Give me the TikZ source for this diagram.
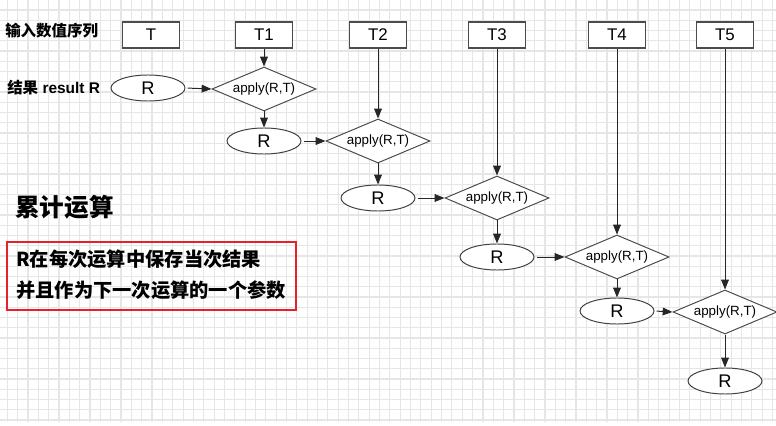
\documentclass[tikz,border=0pt]{standalone}
\usepackage{fontspec}
\setmainfont{Liberation Sans}
\newfontfamily\cjk{Noto Sans CJK SC}
\usetikzlibrary{shapes.geometric, arrows.meta, positioning, calc}

\definecolor{gridgray}{HTML}{E6E6E6}
\definecolor{notered}{HTML}{E8202A}

\begin{document}
\begin{tikzpicture}[
    x=0.025cm, y=-0.025cm,
    % --- BASE STYLES ---
    gridline/.style={draw=gridgray, line width=0.8pt},
    inbox/.style={rectangle, draw=black!70, fill=white, line width=0.8pt, minimum width=40.5pt, minimum height=18.5pt, inner sep=0pt, font=\fontsize{12}{14}\selectfont},
    resnode/.style={ellipse, draw=black!75, fill=white, line width=0.7pt, minimum width=52.6pt, minimum height=18.5pt, inner sep=0pt, font=\fontsize{13}{15}\selectfont},
    applynode/.style={diamond, aspect=2.4, draw=black!70, fill=white, line width=0.7pt, minimum width=74pt, minimum height=31.3pt, inner sep=0pt, font=\fontsize{9.5}{11}\selectfont},
    line/.style={draw=black!85, line width=0.7pt, -{Triangle[length=7pt, width=5.5pt]}},
    % --- TEXT STYLES ---
    sidelabel/.style={anchor=west, inner sep=0pt, font=\bfseries\fontsize{11}{13}\selectfont},
    title/.style={anchor=west, inner sep=0pt, font=\cjk\bfseries\fontsize{17.5}{20}\selectfont},
    notebox/.style={rectangle, draw=notered, line width=1.4pt, minimum width=205.6pt, minimum height=47.7pt, inner sep=0pt},
    notetext/.style={anchor=west, inner sep=0pt, font=\cjk\bfseries\fontsize{13.7}{16}\selectfont}
]
\useasboundingbox (0,0) rectangle (776,426);

% ==========================================
% BACKGROUND GRID
% ==========================================
\foreach \gx in {0,...,74} \draw[gridline] ({7.3+10.34*\gx},0) -- ({7.3+10.34*\gx},422);
\foreach \gy in {0,...,40} \draw[gridline] (0,{10+10.25*\gy}) -- (776,{10+10.25*\gy});

% ==========================================
% LEFT LABELS
% ==========================================
\node[sidelabel, font=\cjk\bfseries\fontsize{11}{13}\selectfont] (seqlabel) at (5,31) {输入数值序列};
\node[sidelabel] (reslabel) at (7,88) {{\cjk 结果} result R};

% ==========================================
% INPUT SEQUENCE AND APPLY STEPS
% ==========================================
\node[inbox] (t0) at (151,35) {T};
\node[resnode] (res0) at (148,88) {R};

\foreach \i/\xx/\yy/\ry in {1/264/89/141, 2/378/141/198, 3/497/198/257, 4/617/257/311, 5/725/312/381} {
    \node[inbox] (t\i) at (\xx,35) {T\i};
    \node[applynode] (apply\i) at (\xx,\yy) {apply(R,T)};
    \node[resnode] (res\i) at (\xx,\ry) {R};
}

% Connect: input -> apply, previous R -> apply, apply -> R
\foreach \i/\p in {1/0, 2/1, 3/2, 4/3, 5/4} {
    \draw[line] (t\i.south) -- (apply\i.north);
    \draw[line, shorten <=1.5pt] (res\p.east) -- (apply\i.west);
    \draw[line] (apply\i.south) -- (res\i.north);
}

% ==========================================
% NOTE
% ==========================================
\node[title] (sumtitle) at (15,207) {累计运算};
\node[notebox] (note) at (151.5,276) {};
\node[notetext] (note1) at (16,259) {R在每次运算中保存当次结果};
\node[notetext] (note2) at (16,290) {并且作为下一次运算的一个参数};

\end{tikzpicture}
\end{document}
